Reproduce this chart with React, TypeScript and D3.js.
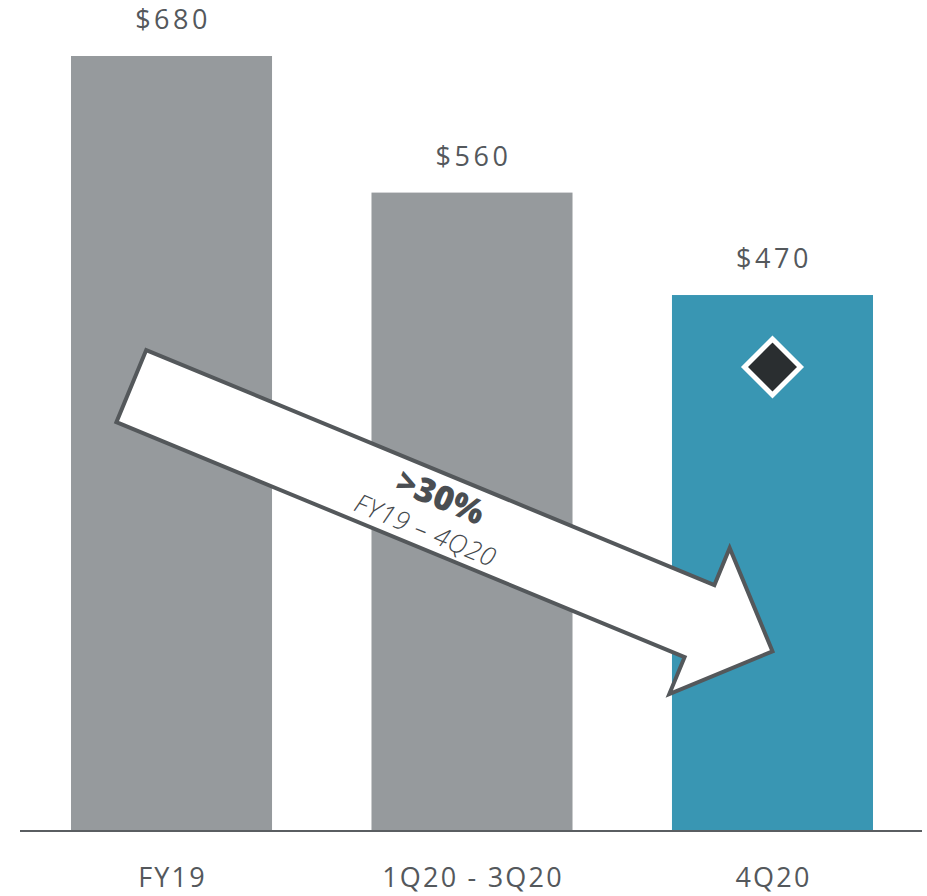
import React from "react";
import * as d3 from "d3";

const categories = ["FY19", "1Q20 - 3Q20", "4Q20"];
const values = [680, 560, 470];
const valueLabels = ["$680", "$560", "$470"];
const barColors = ["#969a9d", "#969a9d", "#3996b3"];
const arrowHeadline = ">30%";
const arrowSubline = "FY19 – 4Q20";

const W = 927;
const H = 896;
const FONT = "'Open Sans', 'DejaVu Sans', sans-serif";
const TEXT = "#54585c";

export default function App() {
  const x = d3.scaleBand<string>().domain(categories).range([71, 873]).paddingInner(0.331).paddingOuter(0);
  const y = d3.scaleLinear().domain([0, 680]).range([830, 56]);
  const bw = x.bandwidth();

  // arrow annotation anchored on scales
  const tail: [number, number] = [(x("FY19") as number) + bw * 0.3, y(390)];
  const tip: [number, number] = [(x("4Q20") as number) + bw / 2, y(157)];
  const dx = tip[0] - tail[0];
  const dy = tip[1] - tail[1];
  const len = Math.sqrt(dx * dx + dy * dy);
  const ang = (Math.atan2(dy, dx) * 180) / Math.PI;
  const shaftHalf = 39;
  const headHalf = 79;
  const headLen = 79;
  const arrowPts: [number, number][] = [
    [0, -shaftHalf],
    [len - headLen, -shaftHalf],
    [len - headLen, -headHalf],
    [len, 0],
    [len - headLen, headHalf],
    [len - headLen, shaftHalf],
    [0, shaftHalf],
  ];
  const arrowPath = d3.line()(arrowPts) + "Z";

  const dcx = (x("4Q20") as number) + bw / 2;
  const dcy = y(470) + 72;
  const dr = 28;
  const diamond = d3.line()([
    [dcx, dcy - dr],
    [dcx + dr, dcy],
    [dcx, dcy + dr],
    [dcx - dr, dcy],
  ]) + "Z";

  return (
    <svg width={W} height={H} style={{ position: "absolute", left: 0, top: 0, display: "block" }}>
      <rect x={0} y={0} width={W} height={H} fill="#ffffff" />
      {categories.map((c, i) => (
        <rect key={c} x={x(c)} y={y(values[i])} width={bw} height={y(0) - y(values[i])} fill={barColors[i]} />
      ))}
      <line x1={20} x2={922} y1={y(0) + 1} y2={y(0) + 1} stroke="#5a5e61" strokeWidth={2.2} />
      {categories.map((c, i) => (
        <text
          key={"v" + c}
          x={(x(c) as number) + bw / 2 + 1.5}
          y={y(values[i]) - 27}
          textAnchor="middle"
          fontFamily={FONT}
          fontSize={27}
          letterSpacing={3.5}
          fill={TEXT}
        >
          {valueLabels[i]}
        </text>
      ))}
      {categories.map((c) => (
        <text
          key={"c" + c}
          x={(x(c) as number) + bw / 2 + 1}
          y={887}
          textAnchor="middle"
          fontFamily={FONT}
          fontSize={27}
          letterSpacing={2.2}
          fill={TEXT}
        >
          {c}
        </text>
      ))}
      <path d={diamond} fill="#2a2e30" stroke="#ffffff" strokeWidth={5} strokeLinejoin="miter" />
      <g transform={`translate(${tail[0]},${tail[1]}) rotate(${ang})`}>
        <path d={arrowPath} fill="#ffffff" stroke="#54585b" strokeWidth={4} strokeLinejoin="miter" />
        <text x={328} y={-4} textAnchor="middle" fontFamily={FONT} fontSize={34} fontWeight={800} fill="#4a4e52">
          {arrowHeadline}
        </text>
        <text
          x={327}
          y={30}
          textAnchor="middle"
          fontFamily={FONT}
          fontSize={26}
          fontStyle="italic"
          fontWeight={300}
          letterSpacing={0.8}
          fill="#44484c"
        >
          {arrowSubline}
        </text>
      </g>
    </svg>
  );
}
